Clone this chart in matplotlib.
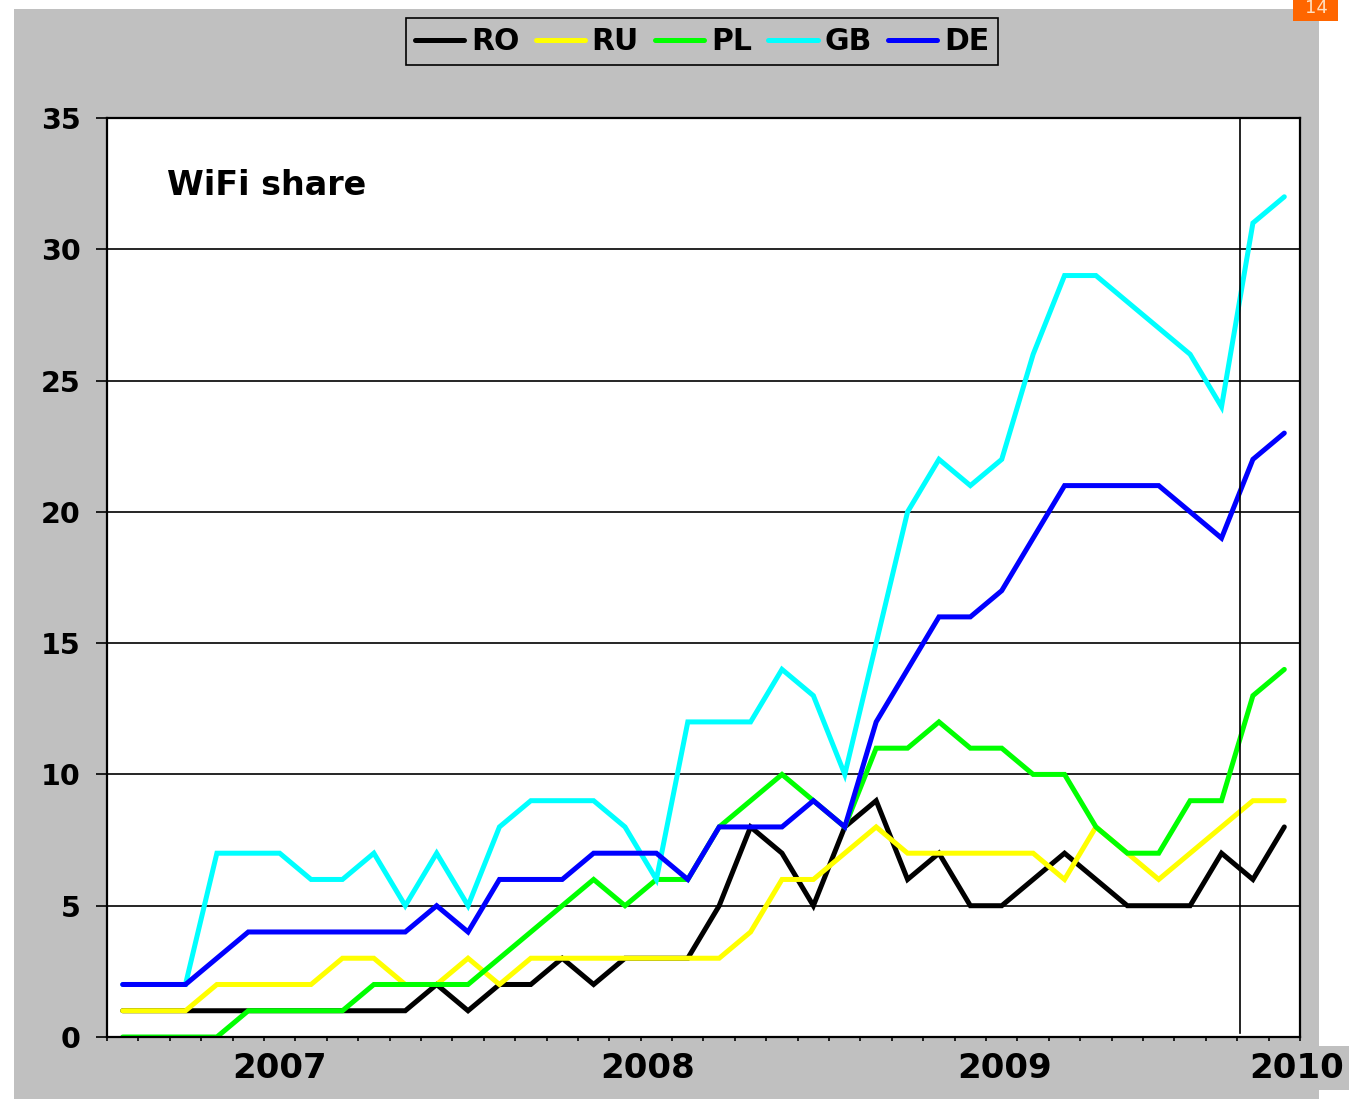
import numpy as np
import matplotlib
matplotlib.use("Agg")
import matplotlib.pyplot as plt
from matplotlib.patches import Rectangle
from matplotlib.transforms import blended_transform_factory

# -------------------------
# Data (monthly WiFi share, %)
# -------------------------
countries = ["RO", "RU", "PL", "GB", "DE"]
colors = ["#000000", "#FFFF00", "#00FF00", "#00FFFF", "#0000FF"]

ro = [1, 1, 1, 1, 1, 1, 1, 1, 1, 1, 2, 1, 2, 2, 3, 2, 3, 3, 3, 5,
      8, 7, 5, 8, 9, 6, 7, 5, 5, 6, 7, 6, 5, 5, 5, 7, 6, 8]
ru = [1, 1, 1, 2, 2, 2, 2, 3, 3, 2, 2, 3, 2, 3, 3, 3, 3, 3, 3, 3,
      4, 6, 6, 7, 8, 7, 7, 7, 7, 7, 6, 8, 7, 6, 7, 8, 9, 9]
pl = [0, 0, 0, 0, 1, 1, 1, 1, 2, 2, 2, 2, 3, 4, 5, 6, 5, 6, 6, 8,
      9, 10, 9, 8, 11, 11, 12, 11, 11, 10, 10, 8, 7, 7, 9, 9, 13, 14]
gb = [2, 2, 2, 7, 7, 7, 6, 6, 7, 5, 7, 5, 8, 9, 9, 9, 8, 6, 12, 12,
      12, 14, 13, 10, 15, 20, 22, 21, 22, 26, 29, 29, 28, 27, 26, 24, 31, 32]
de = [2, 2, 2, 3, 4, 4, 4, 4, 4, 4, 5, 4, 6, 6, 6, 7, 7, 7, 6, 8,
      8, 8, 9, 8, 12, 14, 16, 16, 17, 19, 21, 21, 21, 21, 20, 19, 22, 23]
series = [ro, ru, pl, gb, de]

years = ["2007", "2008", "2009", "2010"]
year_pos = [5.0, 16.73, 28.1, 37.38]   # label centres in month index units
year_break = 35.6                      # vertical marker line
y_ticks = [0, 5, 10, 15, 20, 25, 30, 35]

W, H = 1357, 1099
GRAY = "#C0C0C0"

fig = plt.figure(figsize=(W / 100, H / 100), dpi=100)
fig.patch.set_facecolor("white")
fig.patches.append(Rectangle((14 / W, 0), (1319 - 14) / W, (H - 9) / H,
                             transform=fig.transFigure, facecolor=GRAY,
                             edgecolor="none", zorder=-10))
# little orange page-number tag in the corner
fig.patches.append(Rectangle((1293 / W, 1 - 21 / H), 45 / W, 21 / H,
                             transform=fig.transFigure, facecolor="#FF6600",
                             edgecolor="none", zorder=-5))
fig.text(1316 / W, 1 - 8 / H, "14", color="#FFE0C0", fontsize=13,
         ha="center", va="center")

ax = fig.add_axes([107 / W, (H - 1037) / H, (1300 - 107) / W, (1037 - 118) / H])
ax.set_facecolor("white")

x = np.arange(len(ro))
for name, vals, c in zip(countries, series, colors):
    ax.plot(x, vals, color=c, lw=3.6, label=name, solid_joinstyle="miter",
            solid_capstyle="round")

ax.set_xlim(-0.5, len(ro) - 0.5)
ax.set_ylim(0, 35)
ax.set_yticks(y_ticks)
ax.yaxis.grid(True, color="black", lw=1.2)
ax.set_axisbelow(True)
ax.axvline(year_break, ymin=0.004, color="black", lw=1.2)

for s in ax.spines.values():
    s.set_linewidth(1.6)
    s.set_color("black")

ax.tick_params(axis="y", direction="out", length=8, width=1.2, pad=11,
               labelsize=20.5)
for lab in ax.get_yticklabels():
    lab.set_fontweight("bold")
ax.set_xticks(np.arange(-0.5, len(ro), 1))
ax.set_xticklabels([])
ax.tick_params(axis="x", direction="out", length=3, width=1.2)

trans = blended_transform_factory(ax.transData, ax.transAxes)
for yr, xp in zip(years, year_pos):
    bb = dict(facecolor=GRAY, edgecolor="none", pad=4) if yr == "2010" else None
    ax.text(xp, -0.034, yr, transform=trans, ha="center", va="center",
            fontsize=24.5, fontweight="bold", clip_on=False, bbox=bb)

ax.text(0.0503, 0.927, "WiFi share", transform=ax.transAxes, fontsize=24,
        fontweight="bold", ha="left", va="center")

leg = ax.legend(loc="center", bbox_to_anchor=(702 / W, 1 - 41.5 / H),
                bbox_transform=fig.transFigure, ncol=5, fancybox=False,
                frameon=True, handlelength=1.65, handletextpad=0.22,
                columnspacing=0.55, borderpad=0.3,
                prop={"weight": "bold", "size": 21.5})
leg.get_frame().set_facecolor(GRAY)
leg.get_frame().set_edgecolor("black")
leg.get_frame().set_linewidth(1.2)
leg.get_frame().set_alpha(1)
for ln in leg.get_lines():
    ln.set_linewidth(3.6)

fig.savefig("out.png", dpi=100)
